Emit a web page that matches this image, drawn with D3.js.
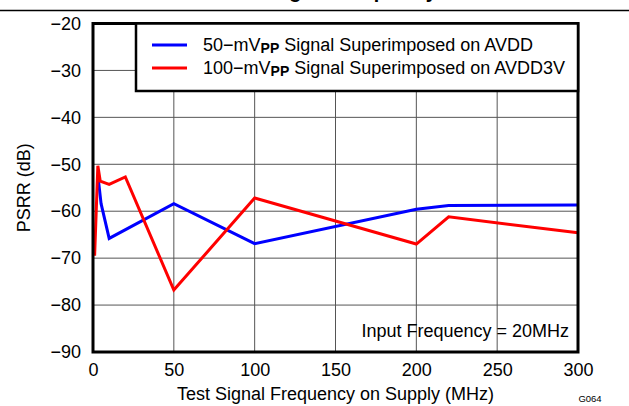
<!DOCTYPE html>
<html>
<head>
<meta charset="utf-8">
<script src="https://cdn.jsdelivr.net/npm/d3@7"></script>
<style>
  html, body { margin: 0; padding: 0; background: #fff; }
  svg { display: block; font-family: "Liberation Sans", Arial, sans-serif; }
</style>
</head>
<body>
<svg id="chart" width="629" height="406"></svg>
<script>
// PSRR measured against test-signal frequency on the supply rail
const avddFreq = [3, 5, 10, 50, 100, 200, 220, 300];
const avddPsrr = [-52.3, -58.4, -65.8, -58.4, -66.9, -59.6, -58.8, -58.7];

const avdd3vFreq = [1, 3, 4.5, 10, 20, 50, 100, 200, 220, 300];
const avdd3vPsrr = [-69.5, -50.3, -53.6, -54.3, -52.7, -76.8, -57.2, -67.0, -61.2, -64.6];

const xTicks = [0, 50, 100, 150, 200, 250, 300];
const yTicks = [-20, -30, -40, -50, -60, -70, -80, -90];

const seriesNames = ["50−mV", "100−mV"];
const seriesSuffix = [" Signal Superimposed on AVDD", " Signal Superimposed on AVDD3V"];
const seriesColors = ["#0000ff", "#ff0000"];

const svg = d3.select("#chart");
const plotL = 93, plotR = 578, plotT = 23.5, plotB = 352;

const x = d3.scaleLinear().domain([0, 300]).range([plotL, plotR]);
const y = d3.scaleLinear().domain([-90, -20]).range([plotB, plotT]);

// title sits above the page rule
svg.append("text")
  .attr("x", 437).attr("y", -2)
  .attr("text-anchor", "end")
  .attr("font-size", 20).attr("font-weight", "bold")
  .text("PSRR vs Test Signal Frequency");
svg.append("line")
  .attr("x1", 0).attr("x2", 629).attr("y1", 10.5).attr("y2", 10.5)
  .attr("stroke", "#000").attr("stroke-width", 1.5);

// grid
const grid = svg.append("g").attr("stroke", "#555").attr("stroke-width", 1);
grid.selectAll("line.v").data(xTicks.slice(1, -1)).join("line")
  .attr("x1", d => x(d)).attr("x2", d => x(d))
  .attr("y1", plotT).attr("y2", plotB);
grid.selectAll("line.h").data(yTicks.slice(1, -1)).join("line")
  .attr("x1", plotL).attr("x2", plotR)
  .attr("y1", d => y(d)).attr("y2", d => y(d));

// axes (labels only, no tick marks)
const xAxis = svg.append("g")
  .attr("transform", `translate(0,${plotB})`)
  .call(d3.axisBottom(x).tickValues(xTicks).tickSize(0).tickPadding(11));
const yAxis = svg.append("g")
  .attr("transform", `translate(${plotL},0)`)
  .call(d3.axisLeft(y).tickValues(yTicks).tickSize(0).tickPadding(12)
    .tickFormat(d => String(d).replace("-", "−")));
[xAxis, yAxis].forEach(a => {
  a.select(".domain").remove();
  a.selectAll("text").attr("font-size", 18)
    .attr("font-family", "'Liberation Sans', Arial, sans-serif").attr("fill", "#000");
});

// data lines
const line = d3.line().x(d => x(d[0])).y(d => y(d[1]));
const avddPts = avddFreq.map((f, i) => [f, avddPsrr[i]]);
const avdd3vPts = avdd3vFreq.map((f, i) => [f, avdd3vPsrr[i]]);
svg.append("path").datum(avddPts).attr("d", line)
  .attr("fill", "none").attr("stroke", seriesColors[0]).attr("stroke-width", 3)
  .attr("stroke-linejoin", "miter");
svg.append("path").datum(avdd3vPts).attr("d", line)
  .attr("fill", "none").attr("stroke", seriesColors[1]).attr("stroke-width", 3)
  .attr("stroke-linejoin", "miter");

// frame
svg.append("rect")
  .attr("x", plotL).attr("y", plotT).attr("width", plotR - plotL).attr("height", plotB - plotT)
  .attr("fill", "none").attr("stroke", "#000").attr("stroke-width", 3);

// legend
const lg = svg.append("g");
lg.append("rect")
  .attr("x", 136).attr("y", plotT).attr("width", plotR - 136).attr("height", 91 - plotT)
  .attr("fill", "#fff").attr("stroke", "#000").attr("stroke-width", 2.5);
seriesNames.forEach((name, i) => {
  const cy = 45 + i * 23;
  lg.append("line")
    .attr("x1", 152).attr("x2", 187).attr("y1", cy).attr("y2", cy)
    .attr("stroke", seriesColors[i]).attr("stroke-width", 3);
  const t = lg.append("text").attr("x", 203).attr("y", cy + 6).attr("font-size", 18);
  t.append("tspan").text(name);
  t.append("tspan").attr("dy", 2).attr("font-size", 14).attr("font-weight", "bold").text("PP");
  t.append("tspan").attr("dy", -2).text(seriesSuffix[i]);
});

// note
svg.append("text")
  .attr("x", 569).attr("y", 337).attr("text-anchor", "end")
  .attr("font-size", 18).text("Input Frequency = 20MHz");

// axis titles
svg.append("text")
  .attr("x", x(150)).attr("y", 400).attr("text-anchor", "middle")
  .attr("font-size", 18).text("Test Signal Frequency on Supply (MHz)");
svg.append("text")
  .attr("transform", `translate(30,${(plotT + plotB) / 2}) rotate(-90)`)
  .attr("text-anchor", "middle")
  .attr("font-size", 18).text("PSRR (dB)");

svg.append("text")
  .attr("x", 590).attr("y", 402).attr("text-anchor", "middle")
  .attr("font-size", 9.5).text("G064");
</script>
</body>
</html>
